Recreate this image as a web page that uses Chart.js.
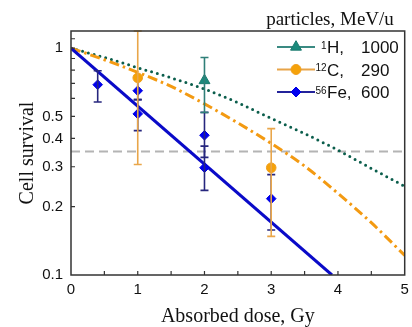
<!DOCTYPE html>
<html>
<head>
<meta charset="utf-8">
<script src="https://cdn.jsdelivr.net/npm/chart.js@4/dist/chart.umd.min.js"></script>
<style>
  html, body { margin: 0; padding: 0; background: #fff; }
  #wrap { width: 412px; height: 327px; position: relative; }
</style>
</head>
<body>
<div id="wrap"><canvas id="c" width="412" height="327"></canvas></div>
<script>
// ---------- data ----------
const xTickValues = [0, 1, 2, 3, 4, 5];
const xMinorTicks = [0.5, 1, 1.5, 2, 2.5, 3, 3.5, 4, 4.5];
const yTickValues = [0.1, 0.2, 0.3, 0.4, 0.5, 0.6, 0.7, 0.8, 0.9, 1];
const yTickLabels = ['0.1', '0.2', '0.3', '0.4', '0.5', '', '', '', '', '1'];
const yMinorTicks = [0.2, 0.3, 0.4, 0.5, 0.6, 0.7, 0.8, 0.9, 1, 1.1];

// measured points with error bars
const doseH = [2];
const survH = [0.72];
const loH = [0.52];
const hiH = [0.91];

const doseC = [1, 3];
const survC = [0.74, 0.297];
const loC = [0.307, 0.148];
const hiC = [1.19, 0.442];

const doseFe = [0.4, 1, 1, 2, 2, 3];
const survFe = [0.69, 0.649, 0.513, 0.413, 0.297, 0.217];
const loFe = [0.579, 0.593, 0.433, 0.33, 0.236, 0.158];
const hiFe = [0.795, 0.743, 0.593, 0.521, 0.37, 0.277];

// fitted survival curves
const fitDose = [0, 0.5, 1, 1.5, 2, 2.5, 3, 3.5, 4, 4.5, 5];
const fitH = [1, 0.91, 0.82, 0.74, 0.66, 0.575, 0.49, 0.42, 0.355, 0.295, 0.246];
const fitC = [1, 0.889, 0.782, 0.678, 0.568, 0.468, 0.38, 0.302, 0.229, 0.17, 0.122];
const fitFeDose = [0, 3.91];
const fitFe = [1, 0.1];

const refDose = [0, 5];
const refLevel = [0.35, 0.35];

// legend text
const legendTitle = 'particles, MeV/u';
const massNumbers = ['1', '12', '56'];
const particleNames = ['H,', 'C,', 'Fe,'];
const energies = ['1000', '290', '600'];

// ---------- helpers ----------
const pts = (xs, ys) => xs.map((x, i) => ({ x: x, y: ys[i] }));

const errorSets = {
  H:  { dose: doseH,  lo: loH,  hi: hiH,  color: '#2f7f78' },
  C:  { dose: doseC,  lo: loC,  hi: hiC,  color: '#e9a64a' },
  Fe: { dose: doseFe, lo: loFe, hi: hiFe, color: '#26267e' }
};

const errorBarPlugin = {
  id: 'errbars',
  afterDatasetDraw(chart, args) {
    const ds = chart.data.datasets[args.index];
    if (!ds.errKey) return;
    const e = errorSets[ds.errKey];
    const xs = chart.scales.x, ys = chart.scales.y, a = chart.chartArea;
    const ctx = chart.ctx;
    ctx.save();
    ctx.beginPath();
    ctx.rect(a.left, a.top - 1, a.right - a.left, a.bottom - a.top + 1);
    ctx.clip();
    ctx.strokeStyle = e.color;
    ctx.lineWidth = 1.6;
    e.dose.forEach((d, i) => {
      const px = xs.getPixelForValue(d);
      const y1 = ys.getPixelForValue(e.lo[i]);
      const y2 = ys.getPixelForValue(e.hi[i]);
      ctx.beginPath();
      ctx.moveTo(px, y1); ctx.lineTo(px, y2);
      ctx.moveTo(px - 4, y1); ctx.lineTo(px + 4, y1);
      ctx.moveTo(px - 4, y2); ctx.lineTo(px + 4, y2);
      ctx.stroke();
    });
    ctx.restore();
  }
};

const framePlugin = {
  id: 'frame',
  afterDraw(chart) {
    const ctx = chart.ctx, a = chart.chartArea;
    const xs = chart.scales.x, ys = chart.scales.y;
    ctx.save();
    ctx.strokeStyle = '#333';
    ctx.lineWidth = 1.5;
    ctx.strokeRect(a.left, a.top, a.right - a.left, a.bottom - a.top);
    ctx.lineWidth = 1.2;
    ctx.beginPath();
    xMinorTicks.forEach(v => {
      const px = xs.getPixelForValue(v);
      ctx.moveTo(px, a.bottom); ctx.lineTo(px, a.bottom - 4);
    });
    yMinorTicks.forEach(v => {
      const py = ys.getPixelForValue(v);
      ctx.moveTo(a.left, py); ctx.lineTo(a.left + 4, py);
    });
    ctx.stroke();
    ctx.restore();
  }
};

const legendPlugin = {
  id: 'customLegend',
  afterDraw(chart) {
    const ctx = chart.ctx;
    ctx.save();
    ctx.fillStyle = '#111';
    ctx.font = '19px "Liberation Serif"';
    ctx.textAlign = 'center';
    ctx.textBaseline = 'middle';
    ctx.fillText(legendTitle, 330, 20);
    const styles = [
      { line: '#3a8a82', fill: '#1a8a7c', stroke: '#1a7a6e', ps: 'triangle', r: 6.3 },
      { line: '#e8a448', fill: '#f5a20a', stroke: '#f0a020', ps: 'circle', r: 5 },
      { line: '#23239a', fill: '#0000f0', stroke: '#0000e0', ps: 'rectRot', r: 5 }
    ];
    styles.forEach((s, i) => {
      const y = 47 + i * 22.5;
      ctx.strokeStyle = s.line;
      ctx.lineWidth = 2;
      ctx.beginPath(); ctx.moveTo(277, y); ctx.lineTo(315, y); ctx.stroke();
      ctx.fillStyle = s.fill; ctx.strokeStyle = s.stroke; ctx.lineWidth = 1;
      Chart.helpers.drawPoint(ctx, { pointStyle: s.ps, rotation: 0, radius: s.r, borderWidth: 1 }, 296, y);
      ctx.fillStyle = '#111';
      ctx.font = '10px "Liberation Sans"';
      ctx.textAlign = 'right';
      ctx.textBaseline = 'alphabetic';
      ctx.fillText(massNumbers[i], 326.5, y + 1.5);
      ctx.font = '17px "Liberation Sans"';
      ctx.textAlign = 'left';
      ctx.fillText(particleNames[i], 327, y + 6);
      ctx.fillText(energies[i], 361, y + 6);
    });
    ctx.restore();
  }
};

// ---------- chart ----------
new Chart(document.getElementById('c'), {
  type: 'line',
  data: {
    datasets: [
      { label: 'H', errKey: 'H', data: pts(doseH, survH), showLine: false,
        pointStyle: 'triangle', pointRadius: 6.3, backgroundColor: '#1a8a7c', borderColor: '#1a7a6e', pointBorderWidth: 1 },
      { label: 'C', errKey: 'C', data: pts(doseC, survC), showLine: false,
        pointStyle: 'circle', pointRadius: 4.8, backgroundColor: '#f5a20a', borderColor: '#f0a020', pointBorderWidth: 1 },
      { label: 'Fe', errKey: 'Fe', data: pts(doseFe, survFe), showLine: false,
        pointStyle: 'rectRot', pointRadius: 4.8, backgroundColor: '#0000f0', borderColor: '#0000e0', pointBorderWidth: 1 },
      { label: 'fit Fe', data: pts(fitFeDose, fitFe), borderColor: '#0a0ac8', borderWidth: 3, pointRadius: 0, clip: 0 },
      { label: 'fit C', data: pts(fitDose, fitC), borderColor: '#f39a12', borderWidth: 3, borderDash: [10, 4, 2.5, 4],
        pointRadius: 0, cubicInterpolationMode: 'monotone', clip: 0 },
      { label: 'fit H', data: pts(fitDose, fitH), borderColor: '#0b5e4c', borderWidth: 3, borderDash: [0, 6],
        borderCapStyle: 'round', pointRadius: 0, cubicInterpolationMode: 'monotone', clip: 0 },
      { label: 'ref', data: pts(refDose, refLevel), borderColor: '#b4b4b4', borderWidth: 2, borderDash: [9, 5],
        pointRadius: 0, clip: 0 }
    ]
  },
  options: {
    responsive: false,
    animation: false,
    layout: { padding: { top: 31, right: 4, left: 0, bottom: 0 } },
    plugins: { legend: { display: false }, tooltip: { enabled: false } },
    scales: {
      x: {
        type: 'linear', min: 0, max: 5,
        grid: { display: false, drawTicks: false },
        border: { display: false },
        afterBuildTicks: s => { s.ticks = xTickValues.map(v => ({ value: v })); },
        ticks: { padding: 6, color: '#111', font: { family: 'Liberation Sans', size: 15 },
                 callback: v => String(v), maxRotation: 0, autoSkip: false },
        title: { display: true, text: 'Absorbed dose, Gy', color: '#111',
                 font: { family: 'Liberation Serif', size: 20, lineHeight: 1 }, padding: { top: 0, bottom: 0 } },
        afterFit: s => { s.height = 52; s.paddingLeft = 0; s.paddingRight = 0; }
      },
      y: {
        type: 'logarithmic', min: 0.1, max: 1.19,
        grid: { display: false, drawTicks: false },
        border: { display: false },
        afterBuildTicks: s => { s.ticks = yTickValues.map(v => ({ value: v })); },
        ticks: { padding: 8, color: '#111', font: { family: 'Liberation Sans', size: 15 }, autoSkip: false,
                 callback: (v, i) => yTickLabels[i] },
        title: { display: true, text: 'Cell survival', color: '#111',
                 font: { family: 'Liberation Serif', size: 20, lineHeight: 1 }, padding: { top: 18, bottom: 0 } },
        afterFit: s => { s.width = 71; s.paddingTop = 0; s.paddingBottom = 0; }
      }
    }
  },
  plugins: [errorBarPlugin, framePlugin, legendPlugin]
});
</script>
</body>
</html>
